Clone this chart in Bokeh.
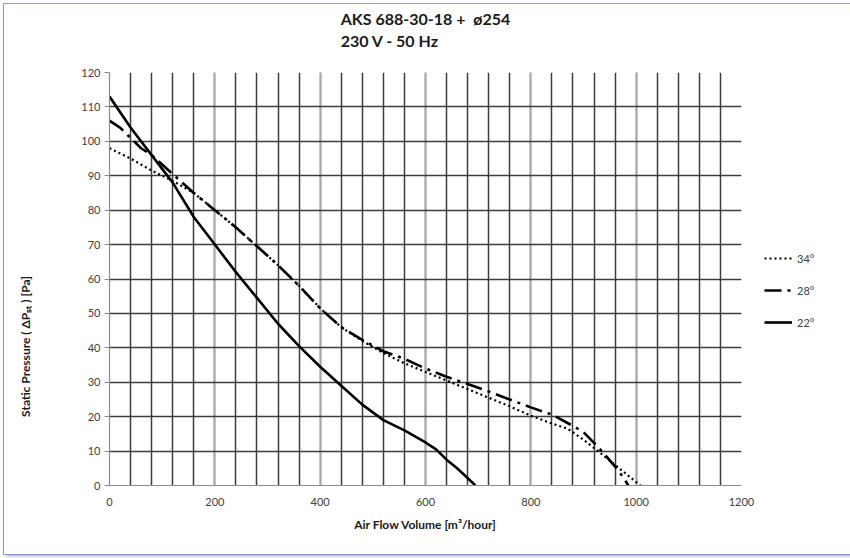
from bokeh.plotting import figure
from bokeh.models import Range1d, SingleIntervalTicker, FixedTicker, Legend, LegendItem, Title
from bokeh.embed import file_html
from bokeh.resources import INLINE

# ---- data ----
x34 = [0, 40, 80, 120, 160, 200, 240, 280, 320, 360, 400, 440, 480, 520, 560, 600, 640, 680, 720, 760, 800, 840, 870, 900, 926, 957, 980, 1008]
y34 = [98, 95, 91.5, 88.5, 85, 80, 75, 69.5, 64, 58, 51.5, 46, 42, 38.5, 35.5, 33, 30.5, 28, 25.5, 23, 20.3, 18, 16.5, 13.3, 10.2, 6.3, 3.5, 0]

x28 = [0, 20, 40, 60, 80, 120, 160, 200, 240, 280, 320, 360, 400, 440, 480, 520, 560, 600, 640, 680, 720, 760, 800, 840, 880, 900, 920, 940, 960, 975, 985]
y28 = [106, 104, 101, 98, 96, 90.5, 85, 80, 75, 69.5, 64, 58, 51.5, 46, 42.3, 39, 36.8, 34, 31.6, 29.5, 27.3, 25, 22.7, 20.6, 17.3, 15.5, 12.4, 9.1, 5.5, 2.5, 0]

x22 = [0, 40, 80, 120, 160, 200, 240, 280, 320, 360, 400, 440, 480, 520, 560, 600, 620, 640, 660, 695]
y22 = [113, 104, 96, 88, 78, 70, 62, 54.5, 47, 40.5, 34.5, 29, 23.5, 19, 16, 12.5, 10.5, 7.5, 5, 0]

series_names = ["34°", "28°", "22°"]
title_lines = ["AKS 688-30-18 +\u00a0 ø254", "230 V - 50 Hz"]
x_label = "Air Flow Volume [m³/hour]"
y_label = "Static Pressure ( ΔPₛₜ ) [Pa]"
x_ticks = [0, 200, 400, 600, 800, 1000, 1200]

FONT = "Lato"

p = figure(frame_width=632, frame_height=413, output_backend="svg", toolbar_location=None,
           x_range=Range1d(0, 1200), y_range=Range1d(0, 120),
           min_border_left=105, min_border_right=105, min_border_top=68, min_border_bottom=69,
           background_fill_color="white", border_fill_color="white")
p.margin = (4, 4, 4, 4)
p.outline_line_color = None
p.styles = {"outline": "1.5px solid #7d9ccb", "box-shadow": "2px 2px 3px rgba(0,0,0,0.35)"}

# two title lines plus an empty line below them, so the block sits high above the frame
p.title = Title(text=title_lines[0] + "\n" + title_lines[1] + "\n", align="center",
                text_font=FONT, text_font_size="16px", text_font_style="bold",
                text_color="#1a1a1a", standoff=0, text_line_height=1.17)

# axes
p.xaxis.ticker = FixedTicker(ticks=x_ticks, minor_ticks=list(range(0, 1201, 40)))
p.yaxis.ticker = SingleIntervalTicker(interval=10, num_minor_ticks=0)
for ax in (p.xaxis[0], p.yaxis[0]):
    ax.axis_line_color = "#8c8c8c"
    ax.axis_line_width = 1.2
    ax.major_label_text_font = FONT
    ax.major_label_text_font_size = "11px"
    ax.major_label_text_color = "#404040"
    ax.axis_label_text_font = FONT
    ax.axis_label_text_font_size = "12px"
    ax.axis_label_text_font_style = "bold"
    ax.axis_label_text_color = "#1a1a1a"
    ax.minor_tick_line_color = None
    ax.major_tick_in = 0
p.xaxis.major_tick_out = 0
p.xaxis.major_label_standoff = 8
p.xaxis.axis_label = x_label
p.xaxis.axis_label_standoff = 8
p.yaxis.major_tick_out = 5
p.yaxis.major_tick_line_color = "#8c8c8c"
p.yaxis.major_label_standoff = 4
# trailing em spaces move the visible label below the axis centre, as in the reference
p.yaxis.axis_label = y_label + "\u2003" * 15
p.yaxis.axis_label_standoff = 45

# grids
p.xgrid.grid_line_color = "#a8a8a8"
p.xgrid.grid_line_width = 1.5
p.xgrid.minor_grid_line_color = "#3c3c3c"
p.xgrid.minor_grid_line_width = 1.5
p.ygrid.grid_line_color = "#3c3c3c"
p.ygrid.grid_line_width = 1.5

r34 = p.line(x34, y34, line_color="black", line_width=2.2, line_dash="2 3")
r28 = p.line(x28, y28, line_color="black", line_width=2.6, line_dash="17 6 3 6")
r22 = p.line(x22, y22, line_color="black", line_width=2.6)

legend = Legend(items=[LegendItem(label=series_names[0], renderers=[r34]),
                       LegendItem(label=series_names[1], renderers=[r28]),
                       LegendItem(label=series_names[2], renderers=[r22])],
                location=(23, 153), orientation="vertical",
                glyph_width=28, glyph_height=20, label_height=20, spacing=12,
                padding=5, margin=0, label_standoff=5,
                label_text_font=FONT, label_text_font_size="11px", label_text_color="#404040",
                border_line_color=None, background_fill_alpha=0)
p.add_layout(legend, "right")

open("out.html", "w").write(file_html(p, INLINE))
